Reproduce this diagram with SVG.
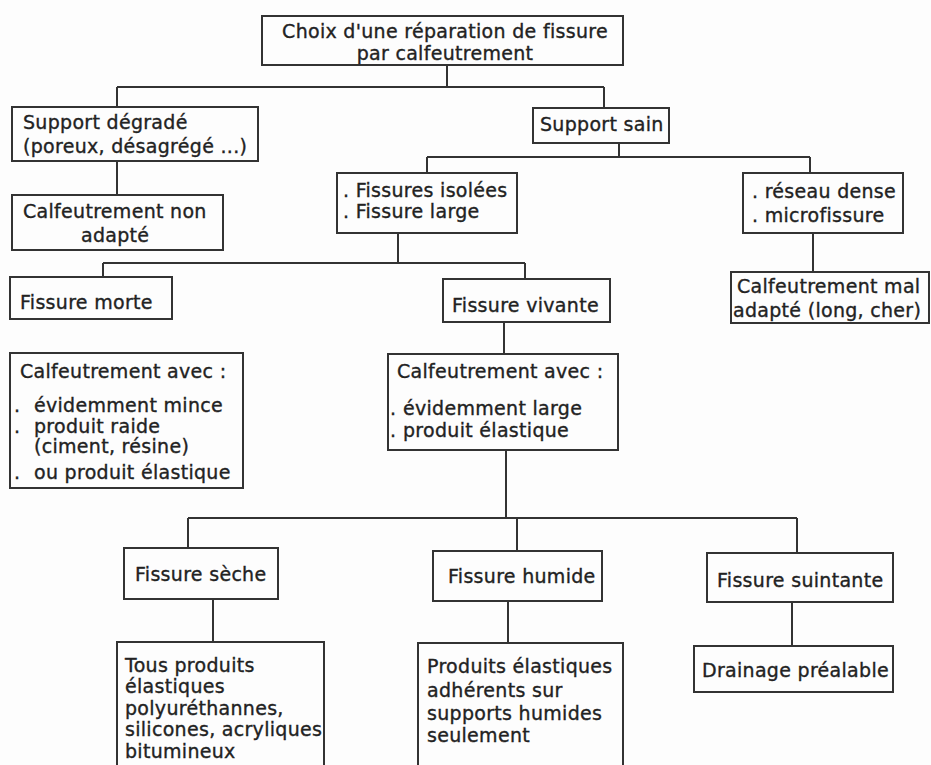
<svg xmlns="http://www.w3.org/2000/svg" width="931" height="765" viewBox="0 0 931 765">
<style>
.box{fill:none;stroke:#333;stroke-width:2}
.ln{fill:none;stroke:#333;stroke-width:2}
text{font-family:"DejaVu Sans","Liberation Sans",sans-serif;font-size:19px;fill:#222;stroke:#222;stroke-width:0.35px;letter-spacing:0.3px}
</style>
<rect width="931" height="765" fill="#fdfdfd"/>
<g id="connectors">
<path class="ln" d="M447 65V87M117 87H604M117 87V107M604 87V108"/>
<path class="ln" d="M117 161V195"/>
<path class="ln" d="M619 143V157M427 157H810M427 157V173M810 157V173"/>
<path class="ln" d="M813 233V272"/>
<path class="ln" d="M398 233V263M103 263H525M103 263V277M525 263V279"/>
<path class="ln" d="M504 322V354"/>
<path class="ln" d="M506 450V518M188 518H797M188 518V548M517 518V551M797 518V553"/>
<path class="ln" d="M213 599V642"/>
<path class="ln" d="M508 601V643"/>
<path class="ln" d="M792 602V646"/>
</g>
<g id="n-choix"><rect class="box" x="262" y="16" width="361" height="49"/>
<text x="445" y="38" text-anchor="middle">Choix d'une réparation de fissure</text>
<text x="445" y="60" text-anchor="middle">par calfeutrement</text></g>
<g id="n-degrade"><rect class="box" x="12" y="107" width="246" height="54"/>
<text x="23" y="129">Support dégradé</text>
<text x="23" y="153">(poreux, désagrégé ...)</text></g>
<g id="n-nonadapte"><rect class="box" x="12" y="195" width="211" height="55"/>
<text x="23" y="218">Calfeutrement non</text>
<text x="81" y="242">adapté</text></g>
<g id="n-sain"><rect class="box" x="533" y="108" width="136" height="35"/>
<text x="540" y="131">Support sain</text></g>
<g id="n-isolees"><rect class="box" x="337" y="173" width="180" height="60"/>
<text x="343" y="197">. Fissures isolées</text>
<text x="343" y="218">. Fissure large</text></g>
<g id="n-reseau"><rect class="box" x="743" y="173" width="160" height="60"/>
<text x="752" y="198">. réseau dense</text>
<text x="752" y="222">. microfissure</text></g>
<g id="n-maladapte"><rect class="box" x="731" y="272" width="198" height="51"/>
<text x="737" y="293">Calfeutrement mal</text>
<text x="733" y="317">adapté (long, cher)</text></g>
<g id="n-morte"><rect class="box" x="10" y="277" width="162" height="42"/>
<text x="20" y="309">Fissure morte</text></g>
<g id="n-vivante"><rect class="box" x="443" y="279" width="167" height="43"/>
<text x="452" y="312">Fissure vivante</text></g>
<g id="n-avec-mince"><rect class="box" x="10" y="353" width="233" height="135"/>
<text x="20" y="378">Calfeutrement avec :</text>
<text x="14" y="412">. <tspan x="34">évidemment mince</tspan></text>
<text x="14" y="433">. <tspan x="34">produit raide</tspan></text>
<text x="34" y="453">(ciment, résine)</text>
<text x="14" y="479">. <tspan x="34">ou produit élastique</tspan></text></g>
<g id="n-avec-large"><rect class="box" x="388" y="354" width="230" height="96"/>
<text x="397" y="378">Calfeutrement avec :</text>
<text x="390" y="415">. <tspan x="403">évidemment large</tspan></text>
<text x="390" y="437">. <tspan x="403">produit élastique</tspan></text></g>
<g id="n-seche"><rect class="box" x="124" y="548" width="154" height="51"/>
<text x="135" y="581">Fissure sèche</text></g>
<g id="n-humide"><rect class="box" x="433" y="551" width="169" height="50"/>
<text x="448" y="583">Fissure humide</text></g>
<g id="n-suintante"><rect class="box" x="707" y="553" width="186" height="49"/>
<text x="717" y="587">Fissure suintante</text></g>
<g id="n-tous"><path class="box" d="M117 770V642H324V770"/>
<text x="125" y="672">Tous produits</text>
<text x="125" y="693">élastiques</text>
<text x="125" y="715">polyuréthannes,</text>
<text x="125" y="736">silicones, acryliques</text>
<text x="125" y="758">bitumineux</text></g>
<g id="n-produits"><path class="box" d="M418 770V643H623V770"/>
<text x="427" y="673">Produits élastiques</text>
<text x="427" y="697">adhérents sur</text>
<text x="427" y="720">supports humides</text>
<text x="427" y="742">seulement</text></g>
<g id="n-drainage"><rect class="box" x="694" y="646" width="199" height="46"/>
<text x="702" y="677">Drainage préalable</text></g>
</svg>
